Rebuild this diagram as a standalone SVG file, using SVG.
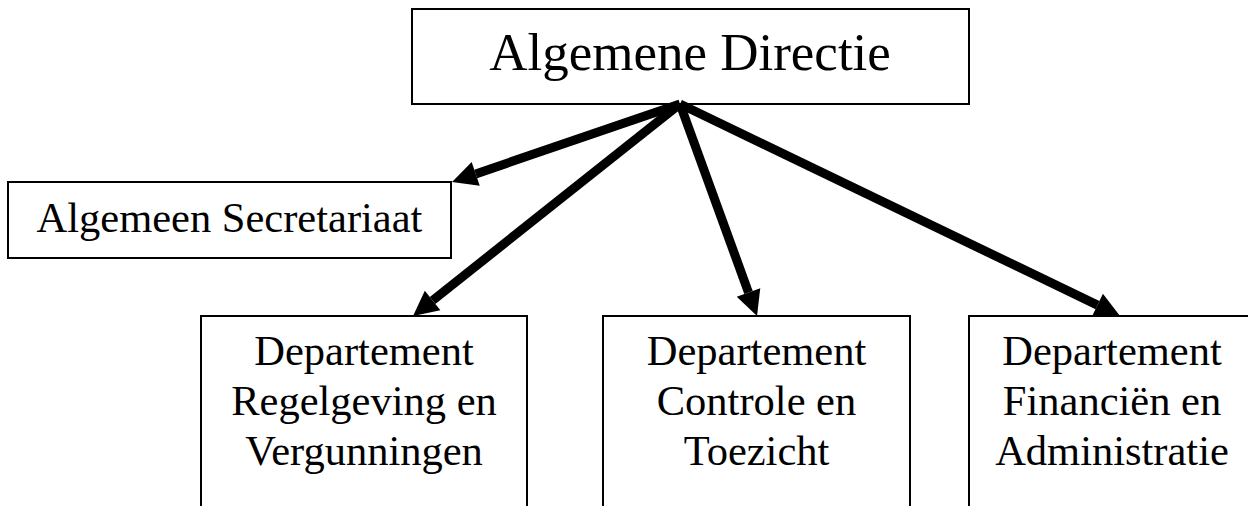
<svg xmlns="http://www.w3.org/2000/svg" width="1248" height="506" viewBox="0 0 1248 506">
<style>
.box{fill:#fff;stroke:#000;stroke-width:2}
.t{font-family:"Liberation Serif","Times New Roman",serif;fill:#000;text-anchor:middle}
.big{font-size:53px}
.mid{font-size:42.5px}
.arr{stroke:#000;stroke-width:9;fill:none;marker-end:url(#ah)}
</style>
<defs>
<marker id="ah" markerUnits="userSpaceOnUse" markerWidth="25" markerHeight="25" refX="0" refY="12.5" orient="auto" overflow="visible">
<path d="M0,0 L25,12.5 L0,25 Z" fill="#000"/>
</marker>
</defs>
<rect width="1248" height="506" fill="#fff"/>
<g id="node-directie">
<rect class="box" x="412" y="9" width="557" height="95"/>
<text class="t big" x="690" y="70">Algemene Directie</text>
</g>
<g id="node-secretariaat">
<rect class="box" x="8" y="182" width="443" height="76"/>
<text class="t mid" x="229.5" y="232">Algemeen Secretariaat</text>
</g>
<g id="node-regelgeving">
<rect class="box" x="201" y="316" width="326" height="200"/>
<text class="t mid" x="364" y="365">Departement</text>
<text class="t mid" x="364" y="415">Regelgeving en</text>
<text class="t mid" x="364" y="465">Vergunningen</text>
</g>
<g id="node-controle">
<rect class="box" x="603" y="316" width="307" height="200"/>
<text class="t mid" x="756.5" y="365">Departement</text>
<text class="t mid" x="756.5" y="415">Controle en</text>
<text class="t mid" x="756.5" y="465">Toezicht</text>
</g>
<g id="node-financien">
<rect class="box" x="969" y="316" width="290" height="200"/>
<text class="t mid" x="1112" y="365">Departement</text>
<text class="t mid" x="1112" y="415">Financiën en</text>
<text class="t mid" x="1112" y="465">Administratie</text>
</g>
<g id="connectors">
<line class="arr" x1="680" y1="104" x2="475.7" y2="173.9"/>
<line class="arr" x1="680" y1="104" x2="432.6" y2="300.5"/>
<line class="arr" x1="680" y1="104" x2="748.5" y2="292.5"/>
<line class="arr" x1="680" y1="104" x2="1097.5" y2="305.1"/>
</g>
</svg>
